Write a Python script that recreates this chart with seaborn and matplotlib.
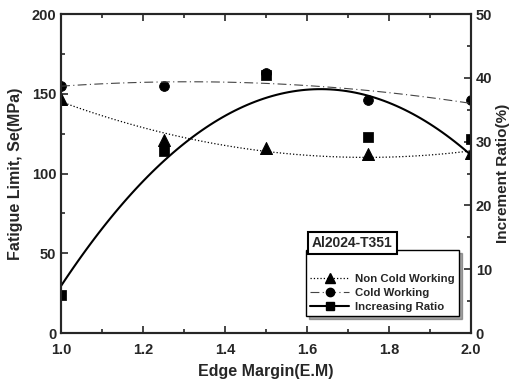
import numpy as np
import pandas as pd
import matplotlib
matplotlib.use('Agg')
import matplotlib.pyplot as plt
import seaborn as sns
from matplotlib.lines import Line2D
from matplotlib.ticker import MultipleLocator

# data
edge_margin = [1.0, 1.25, 1.5, 1.75, 2.0]
non_cold = [147, 121, 116, 112, 113]        # MPa
cold = [155, 155, 163, 146, 146]            # MPa
increase_ratio = [6.0, 28.5, 40.5, 30.8, 30.5]  # %

sns.set_style('ticks')
plt.rcParams['font.family'] = ['Liberation Sans', 'DejaVu Sans']
plt.rcParams['font.weight'] = 'bold'
plt.rcParams['axes.labelweight'] = 'bold'

df = pd.DataFrame({'em': edge_margin, 'non': non_cold, 'cold': cold, 'ratio': increase_ratio})

fig = plt.figure(figsize=(5.13, 3.83), dpi=100)
ax = fig.add_axes([0.119, 0.1305, 0.799, 0.8325])
ax2 = ax.twinx()

# quadratic trend lines
sns.regplot(data=df, x='em', y='non', order=2, ci=None, scatter=False, ax=ax,
            line_kws=dict(color='k', ls=':', lw=0.9))
sns.regplot(data=df, x='em', y='cold', order=2, ci=None, scatter=False, ax=ax,
            line_kws=dict(color='#444444', ls=(0, (8, 3, 1, 3)), lw=0.8))
sns.regplot(data=df, x='em', y='ratio', order=2, ci=None, scatter=False, ax=ax2,
            line_kws=dict(color='k', ls='-', lw=1.5))

# points
sns.scatterplot(data=df, x='em', y='non', marker='^', s=75, color='k', ax=ax, edgecolor='k')
sns.scatterplot(data=df, x='em', y='cold', marker='o', s=50, color='k', ax=ax, edgecolor='k')
sns.scatterplot(data=df, x='em', y='ratio', marker='s', s=45, color='k', ax=ax2, edgecolor='k')

ax.set_xlim(1.0, 2.0)
ax.set_ylim(0, 200)
ax2.set_ylim(0, 50)
ax.xaxis.set_major_locator(MultipleLocator(0.2))
ax.xaxis.set_minor_locator(MultipleLocator(0.1))
ax.yaxis.set_major_locator(MultipleLocator(50))
ax.yaxis.set_minor_locator(MultipleLocator(25))
ax2.yaxis.set_major_locator(MultipleLocator(10))
ax2.yaxis.set_minor_locator(MultipleLocator(5))

ax.tick_params(which='both', direction='in', top=True, labelsize=10.5, width=1.2)
ax.tick_params(which='major', length=5)
ax.tick_params(which='minor', length=3)
ax.tick_params(axis='x', pad=7)
ax2.tick_params(which='both', direction='in', labelsize=10.5, width=1.2)
ax2.tick_params(which='major', length=5)
ax2.tick_params(which='minor', length=3)
for a in (ax, ax2):
    for sp in a.spines.values():
        sp.set_linewidth(1.5)
        sp.set_visible(True)
    for lab in a.get_xticklabels() + a.get_yticklabels():
        lab.set_fontweight('bold')

ax.set_xlabel('Edge Margin(E.M)', fontsize=11.5, fontweight='bold', labelpad=5)
ax.set_ylabel('Fatigue Limit, Se(MPa)', fontsize=11.5, fontweight='bold', labelpad=6)
ax2.set_ylabel('Increment Ratio(%)', fontsize=11, fontweight='bold', labelpad=3)

handles = [
    Line2D([], [], color='k', ls=':', lw=0.9, marker='^', markersize=7),
    Line2D([], [], color='#444444', ls=(0, (8, 3, 1, 3)), lw=0.8, marker='o', markersize=6,
           markerfacecolor='k', markeredgecolor='k'),
    Line2D([], [], color='k', ls='-', lw=1.5, marker='s', markersize=6),
]
labels = ['Non Cold Working', 'Cold Working', 'Increasing Ratio']
leg = ax2.legend(handles, labels, loc='lower right', bbox_to_anchor=(0.971, 0.053),
                 borderaxespad=0, frameon=True, fancybox=False, shadow=True,
                 edgecolor='k', fontsize=8.2, handlelength=3.4, title=' ',
                 title_fontsize=12, labelspacing=0.35, handletextpad=0.5, borderpad=0.4)
leg.get_frame().set_linewidth(1.0)
leg.set_zorder(5)

ax2.text(0.71, 0.282, 'Al2024-T351', transform=ax2.transAxes, ha='center', va='center',
         fontsize=10, fontweight='bold', zorder=10,
         bbox=dict(boxstyle='square,pad=0.3', facecolor='white', edgecolor='k', linewidth=1.5))

fig.savefig('out.png', dpi=100)
